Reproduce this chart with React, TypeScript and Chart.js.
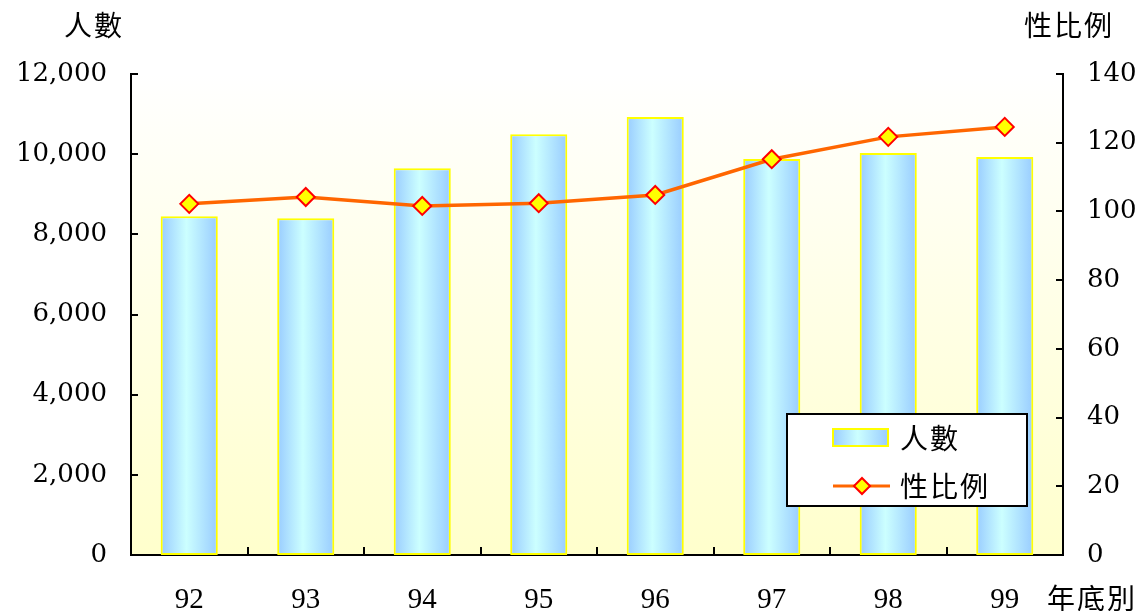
import React, { useEffect, useRef } from "react";
import { Chart, registerables } from "chart.js";

Chart.register(...registerables);

const categories = ["92", "93", "94", "95", "96", "97", "98", "99"];
const population = [8450, 8400, 9650, 10500, 10930, 9880, 10030, 9930];
const sexRatio = [102.2, 104.2, 101.6, 102.4, 104.8, 115.2, 121.7, 124.6];
const leftTicks = [0, 2000, 4000, 6000, 8000, 10000, 12000];
const rightTicks = [0, 20, 40, 60, 80, 100, 120, 140];

const CJK = '"Noto Sans CJK TC", "Noto Sans CJK SC", sans-serif';
const NUM = '"DejaVu Serif", "Liberation Serif", serif';
const NUM_X = '"Liberation Serif", serif';

const barGradient = (ctx: CanvasRenderingContext2D, x0: number, x1: number) => {
  const g = ctx.createLinearGradient(x0, 0, x1, 0);
  g.addColorStop(0, "#99ccff");
  g.addColorStop(0.45, "#ccffff");
  g.addColorStop(1, "#99ccff");
  return g;
};

const decorPlugin = {
  id: "decor",
  beforeDraw(chart: any) {
    const { ctx, chartArea } = chart;
    if (!chartArea) return;
    const g = ctx.createLinearGradient(0, chartArea.top, 0, chartArea.bottom);
    g.addColorStop(0, "#ffffff");
    g.addColorStop(1, "#ffffcc");
    ctx.save();
    ctx.fillStyle = g;
    ctx.fillRect(chartArea.left, chartArea.top, chartArea.right - chartArea.left, chartArea.bottom - chartArea.top);
    ctx.restore();
  },
  afterDraw(chart: any) {
    const { ctx, chartArea, scales } = chart;
    const { left, right, bottom } = chartArea;
    ctx.save();
    ctx.strokeStyle = "#000";
    ctx.lineWidth = 2;
    ctx.beginPath();
    leftTicks.forEach((v) => {
      const y = Math.round(scales.y.getPixelForValue(v));
      ctx.moveTo(left, y);
      ctx.lineTo(left + 7, y);
    });
    rightTicks.forEach((v) => {
      const y = Math.round(scales.y1.getPixelForValue(v));
      ctx.moveTo(right, y);
      ctx.lineTo(right - 7, y);
    });
    for (let i = 1; i < categories.length; i++) {
      const x = Math.round((scales.x.getPixelForValue(i - 1) + scales.x.getPixelForValue(i)) / 2);
      ctx.moveTo(x, bottom);
      ctx.lineTo(x, bottom - 8);
    }
    ctx.stroke();

    // axis titles
    ctx.fillStyle = "#000";
    ctx.font = `28px ${CJK}`;
    ctx.textBaseline = "middle";
    ctx.textAlign = "left";
    (ctx as any).letterSpacing = "2px";
    ctx.fillText("人數", 64, 25);
    ctx.fillText("性比例", 1024, 25);
    ctx.fillText("年底別", 1047, 598);

    // legend
    (ctx as any).letterSpacing = "0px";
    const lx = 787, ly = 414, lw = 240, lh = 92;
    ctx.fillStyle = "#fff";
    ctx.fillRect(lx, ly, lw, lh);
    ctx.strokeStyle = "#000";
    ctx.lineWidth = 2;
    ctx.strokeRect(lx, ly, lw, lh);
    ctx.fillStyle = barGradient(ctx, 833, 888);
    ctx.fillRect(833, 429, 55, 17);
    ctx.strokeStyle = "#ffff00";
    ctx.lineWidth = 2;
    ctx.strokeRect(833, 429, 55, 17);
    ctx.strokeStyle = "#ff6600";
    ctx.lineWidth = 3;
    ctx.beginPath();
    ctx.moveTo(833, 486);
    ctx.lineTo(890, 486);
    ctx.stroke();
    ctx.beginPath();
    ctx.moveTo(862, 478);
    ctx.lineTo(870, 486);
    ctx.lineTo(862, 494);
    ctx.lineTo(854, 486);
    ctx.closePath();
    ctx.fillStyle = "#ffff00";
    ctx.fill();
    ctx.strokeStyle = "#ff0000";
    ctx.lineWidth = 2;
    ctx.stroke();
    ctx.fillStyle = "#000";
    ctx.font = `28px ${CJK}`;
    (ctx as any).letterSpacing = "2px";
    ctx.fillText("人數", 900, 438);
    ctx.fillText("性比例", 900, 486);
    (ctx as any).letterSpacing = "0px";
    ctx.restore();
  },
};

export default function App() {
  const ref = useRef<HTMLCanvasElement>(null);
  useEffect(() => {
    document.body.style.margin = "0";
    const canvas = ref.current!;
    const chart = new Chart(canvas, {
      type: "bar",
      data: {
        labels: categories,
        datasets: [
          {
            type: "line",
            label: "性比例",
            data: sexRatio,
            yAxisID: "y1",
            borderColor: "#ff6600",
            borderWidth: 3.5,
            pointStyle: "rectRot",
            pointRadius: 9,
            pointBackgroundColor: "#ffff00",
            pointBorderColor: "#ff0000",
            pointBorderWidth: 2,
            tension: 0,
            order: 0,
          },
          {
            type: "bar",
            label: "人數",
            data: population,
            yAxisID: "y",
            backgroundColor: (c: any) => {
              const ch = c.chart;
              const xs = ch.scales?.x;
              if (!xs || c.type !== "data" || !ch.chartArea) return "#aaddff";
              const cx = xs.getPixelForValue(c.dataIndex);
              const w = (xs.width / categories.length) * 0.49;
              return barGradient(ch.ctx, cx - w / 2, cx + w / 2);
            },
            borderColor: "#ffff00",
            borderWidth: 2,
            borderSkipped: false,
            barPercentage: 0.49,
            categoryPercentage: 1,
            order: 1,
          },
        ],
      },
      options: {
        animation: false,
        responsive: false,
        layout: { padding: { top: 74, left: 0, right: 0, bottom: 0 } },
        plugins: { legend: { display: false }, tooltip: { enabled: false } },
        scales: {
          x: {
            grid: { display: false, offset: true, drawTicks: false },
            border: { display: true, color: "#000", width: 2 },
            ticks: { color: "#000", font: { family: NUM_X, size: 29 }, padding: 28 },
            afterFit: (s: any) => { s.height = 56; },
          },
          y: {
            position: "left",
            min: 0,
            max: 12000,
            afterBuildTicks: (s: any) => { s.ticks = leftTicks.map((v) => ({ value: v })); },
            grid: { display: false, drawTicks: false },
            border: { display: true, color: "#000", width: 2 },
            ticks: {
              color: "#000",
              font: { family: NUM, size: 26 },
              padding: 24,
              callback: (v: any) => Number(v).toLocaleString("en-US"),
            },
            afterFit: (s: any) => { s.width = 131; },
          },
          y1: {
            position: "right",
            min: 0,
            max: 140,
            afterBuildTicks: (s: any) => { s.ticks = rightTicks.map((v) => ({ value: v })); },
            grid: { display: false, drawTicks: false },
            border: { display: true, color: "#000", width: 2 },
            ticks: { color: "#000", font: { family: NUM, size: 26 }, padding: 24 },
            afterFit: (s: any) => { s.width = 82; },
          },
        },
      },
      plugins: [decorPlugin],
    } as any);
    return () => chart.destroy();
  }, []);
  return <canvas ref={ref} width={1145} height={611} style={{ display: "block" }} />;
}
